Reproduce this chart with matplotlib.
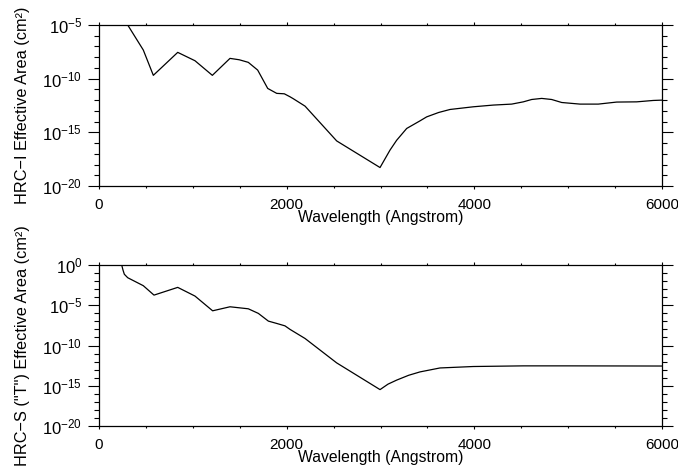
import numpy as np
import matplotlib
matplotlib.use("Agg")
import matplotlib.pyplot as plt
from matplotlib.ticker import FixedLocator, FuncFormatter, MultipleLocator, NullFormatter

plt.rcParams['font.family'] = ['Liberation Sans', 'DejaVu Sans']
plt.rcParams['mathtext.fontset'] = 'custom'
plt.rcParams['mathtext.rm'] = 'Liberation Sans'
plt.rcParams['mathtext.it'] = 'Liberation Sans'
plt.rcParams['mathtext.bf'] = 'Liberation Sans'

# ---- data ----
hrci_wave = [250, 306, 472, 579, 839, 1023, 1208, 1396, 1495, 1591, 1691, 1798,
             1894, 1975, 2036, 2071, 2196, 2533, 2995, 3101, 3172, 3279, 3421,
             3492, 3620, 3741, 3989, 4202, 4398, 4522, 4611, 4718, 4824, 4931,
             5126, 5321, 5517, 5730, 5907, 6000]
hrci_log_area = [-4.2, -5.0, -7.33, -9.69, -7.55, -8.33, -9.69, -8.11, -8.24, -8.48,
                 -9.2, -10.91, -11.37, -11.41, -11.69, -11.87, -12.56, -15.8, -18.28,
                 -16.66, -15.74, -14.64, -13.93, -13.56, -13.15, -12.87, -12.62,
                 -12.46, -12.37, -12.16, -11.94, -11.84, -11.94, -12.22, -12.37,
                 -12.37, -12.18, -12.16, -12.03, -12.0]

hrcs_wave = [225, 242, 255, 270, 306, 472, 586, 839, 1023, 1211, 1396, 1591, 1698,
             1805, 1894, 1982, 2036, 2196, 2533, 2995, 3080, 3172, 3300, 3421,
             3634, 3989, 4522, 5000, 6000]
hrcs_log_area = [0.8, 0.0, -0.6, -1.15, -1.58, -2.57, -3.74, -2.78, -3.86, -5.69,
                 -5.19, -5.44, -6.01, -6.97, -7.26, -7.56, -8.0, -9.13, -12.16,
                 -15.48, -14.8, -14.3, -13.7, -13.28, -12.79, -12.61, -12.53,
                 -12.53, -12.55]

x_major = [0, 2000, 4000, 6000]
top_ylim = (1e-20, 1e-5)
bot_ylim = (1e-20, 1e0)
top_ylabel = "HRC\u2212I Effective Area (cm\u00b2)"
bot_ylabel = "HRC\u2212S (\"T\") Effective Area (cm\u00b2)"
xlabel = "Wavelength (Angstrom)"

W, H = 678, 472
fig = plt.figure(figsize=(W / 100, H / 100), dpi=100)

def box(l, t, r, b):
    return [l / W, 1 - b / H, (r - l) / W, (b - t) / H]

ax1 = fig.add_axes(box(99, 25, 662, 186))
ax2 = fig.add_axes(box(99, 265, 662, 426))

def fmt(v, pos):
    e = int(round(np.log10(v)))
    return r"$10^{%d}$" % e

def style(ax, wave, loga, ylim, ylabel, step):
    ax.plot(wave, 10.0 ** np.array(loga), color='black', lw=0.9)
    ax.set_yscale('log')
    ax.set_xlim(0, 6000)
    ax.set_ylim(*ylim)
    lo, hi = int(np.log10(ylim[0])), int(np.log10(ylim[1]))
    ax.yaxis.set_major_locator(FixedLocator([10.0 ** e for e in range(lo, hi + 1, step)]))
    ax.yaxis.set_minor_locator(FixedLocator([10.0 ** e for e in range(lo, hi + 1)]))
    ax.yaxis.set_major_formatter(FuncFormatter(fmt))
    ax.yaxis.set_minor_formatter(NullFormatter())
    ax.xaxis.set_major_locator(FixedLocator(x_major))
    ax.xaxis.set_minor_locator(MultipleLocator(500))
    ax.xaxis.set_minor_formatter(NullFormatter())
    ax.tick_params(axis='x', which='major', direction='out', length=2.3, width=0.8,
                   top=True, bottom=True, labelsize=11, pad=6, colors='black')
    ax.tick_params(axis='x', which='minor', direction='out', length=1.2, width=0.8,
                   top=True, bottom=True)
    ax.tick_params(axis='y', which='major', direction='out', length=8, width=0.8,
                   left=True, right=True, labelsize=12, pad=4)
    ax.tick_params(axis='y', which='minor', direction='out', length=3.3, width=0.8,
                   left=True, right=True)
    for s in ax.spines.values():
        s.set_linewidth(0.9)
    ax.set_xlabel(xlabel, fontsize=11.3, labelpad=-1)
    ax.set_ylabel(ylabel, fontsize=11.7)

style(ax1, hrci_wave, hrci_log_area, top_ylim, top_ylabel, 5)
style(ax2, hrcs_wave, hrcs_log_area, bot_ylim, bot_ylabel, 5)
for ax in (ax1, ax2):
    ax.yaxis.set_label_coords(-0.122, 0.5)

fig.savefig("out.png", dpi=100)
